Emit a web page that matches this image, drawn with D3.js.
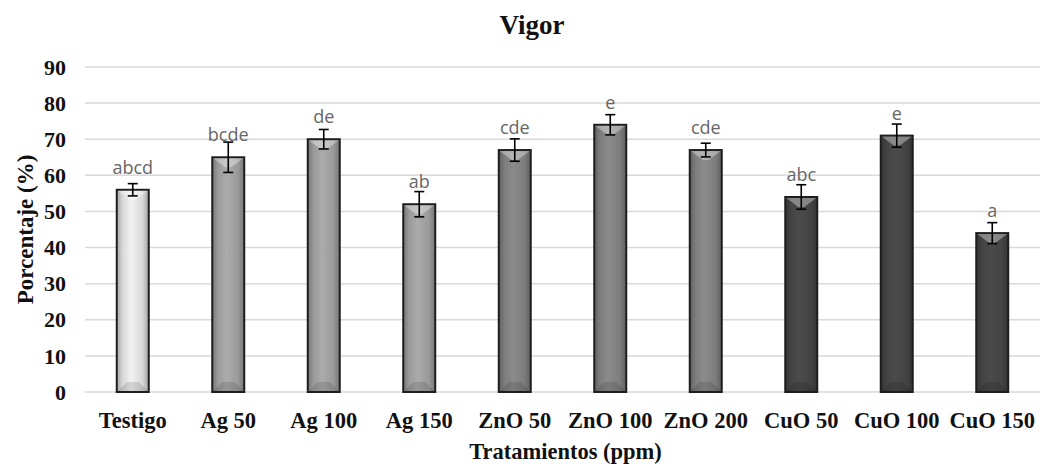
<!DOCTYPE html>
<html>
<head>
<meta charset="utf-8">
<script src="https://cdn.jsdelivr.net/npm/d3@7"></script>
<style>
  body { margin: 0; background: #fff; }
  .serif { font-family: "Liberation Serif", "Times New Roman", serif; font-weight: bold; }
</style>
</head>
<body>
<script>
// chart data
const treatments = ["Testigo", "Ag 50", "Ag 100", "Ag 150", "ZnO 50", "ZnO 100", "ZnO 200", "CuO 50", "CuO 100", "CuO 150"];
const vigor = [56, 65, 70, 52, 67, 74, 67, 54, 71, 44];
const errors = [1.7, 4.2, 2.7, 3.5, 3.1, 2.8, 1.9, 3.4, 3.2, 2.9];
const letters = ["abcd", "bcde", "de", "ab", "cde", "e", "cde", "abc", "e", "a"];
const yTicks = [0, 10, 20, 30, 40, 50, 60, 70, 80, 90];

// one shade per treatment group
const shades = ["#e4e4e4", "#a2a2a2", "#a2a2a2", "#a2a2a2", "#848484", "#848484", "#848484", "#474747", "#474747", "#474747"];

const width = 1047, height = 466;
const margin = {left: 85, right: 7, top: 67, bottom: 74};

const svg = d3.select("body").append("svg")
    .attr("width", width)
    .attr("height", height);

const x = d3.scaleBand()
    .domain(treatments)
    .range([margin.left, width - margin.right])
    .paddingInner(0.665)
    .paddingOuter(0.3325);

const y = d3.scaleLinear()
    .domain([0, 90])
    .range([height - margin.bottom, margin.top]);

// gradients for the bevelled bars
const defs = svg.append("defs");
treatments.forEach((t, i) => {
    const c = d3.color(shades[i]);
    const g = defs.append("linearGradient").attr("id", "g" + i)
        .attr("x1", "0%").attr("x2", "100%").attr("y1", "0%").attr("y2", "0%");
    g.append("stop").attr("offset", "0%").attr("stop-color", c.darker(0.9));
    g.append("stop").attr("offset", "18%").attr("stop-color", c.darker(0.15));
    g.append("stop").attr("offset", "45%").attr("stop-color", c.brighter(0.15));
    g.append("stop").attr("offset", "80%").attr("stop-color", c.darker(0.15));
    g.append("stop").attr("offset", "100%").attr("stop-color", c.darker(0.9));
});

// grid
svg.append("g")
    .selectAll("line")
    .data(yTicks)
    .join("line")
        .attr("x1", margin.left)
        .attr("x2", width - margin.right)
        .attr("y1", d => y(d))
        .attr("y2", d => y(d))
        .attr("stroke", "#d9d9d9")
        .attr("stroke-width", 1.5);

// y tick labels
svg.append("g")
    .selectAll("text")
    .data(yTicks)
    .join("text")
        .attr("class", "serif")
        .attr("x", 66)
        .attr("y", d => y(d))
        .attr("dy", "0.35em")
        .attr("text-anchor", "end")
        .attr("font-size", 22)
        .attr("fill", "#111")
        .text(d => d);

// bars
const bars = svg.append("g")
    .selectAll("g")
    .data(treatments)
    .join("g");

bars.append("rect")
    .attr("x", d => x(d))
    .attr("y", (d, i) => y(vigor[i]))
    .attr("width", x.bandwidth())
    .attr("height", (d, i) => y(0) - y(vigor[i]))
    .attr("fill", (d, i) => "url(#g" + i + ")")
    .attr("stroke", "#1e1e1e")
    .attr("stroke-width", 2);

// top bevel
bars.append("path")
    .attr("d", (d, i) => {
        const x0 = x(d) + 1, x1 = x(d) + x.bandwidth() - 1, top = y(vigor[i]) + 1;
        const cx = (x0 + x1) / 2;
        return `M${x0},${top}L${x1},${top}L${cx + 3},${top + 9}L${cx - 3},${top + 9}Z`;
    })
    .attr("fill", "#fff")
    .attr("fill-opacity", 0.35);

// bottom bevel
bars.append("path")
    .attr("d", (d, i) => {
        const x0 = x(d) + 1, x1 = x(d) + x.bandwidth() - 1, bot = y(0) - 1;
        const cx = (x0 + x1) / 2;
        return `M${x0},${bot}L${x1},${bot}L${cx + 6},${bot - 9}L${cx - 6},${bot - 9}Z`;
    })
    .attr("fill", "#000")
    .attr("fill-opacity", 0.12);

// error bars
const err = svg.append("g")
    .attr("stroke", "#000")
    .attr("stroke-width", 1.6)
    .selectAll("g")
    .data(treatments)
    .join("g");

const cxOf = d => x(d) + x.bandwidth() / 2;
err.append("line")
    .attr("x1", cxOf).attr("x2", cxOf)
    .attr("y1", (d, i) => y(vigor[i] + errors[i]))
    .attr("y2", (d, i) => y(vigor[i] - errors[i]));
err.append("line")
    .attr("x1", d => cxOf(d) - 5).attr("x2", d => cxOf(d) + 5)
    .attr("y1", (d, i) => y(vigor[i] + errors[i]))
    .attr("y2", (d, i) => y(vigor[i] + errors[i]));
err.append("line")
    .attr("x1", d => cxOf(d) - 5).attr("x2", d => cxOf(d) + 5)
    .attr("y1", (d, i) => y(vigor[i] - errors[i]))
    .attr("y2", (d, i) => y(vigor[i] - errors[i]));

// significance letters
svg.append("g")
    .selectAll("text")
    .data(treatments)
    .join("text")
        .attr("x", cxOf)
        .attr("y", (d, i) => y(vigor[i]) - 16)
        .attr("text-anchor", "middle")
        .attr("font-family", "'Open Sans', sans-serif")
        .attr("font-size", 18)
        .attr("fill", "#666")
        .text((d, i) => letters[i]);

// x tick labels
svg.append("g")
    .selectAll("text")
    .data(treatments)
    .join("text")
        .attr("class", "serif")
        .attr("x", cxOf)
        .attr("y", 428)
        .attr("text-anchor", "middle")
        .attr("font-size", 22.5)
        .attr("fill", "#111")
        .text(d => d);

// titles
svg.append("text")
    .attr("class", "serif")
    .attr("x", 532)
    .attr("y", 34)
    .attr("text-anchor", "middle")
    .attr("font-size", 27)
    .attr("fill", "#111")
    .text("Vigor");

svg.append("text")
    .attr("class", "serif")
    .attr("x", (margin.left + width - margin.right) / 2 + 3)
    .attr("y", 459)
    .attr("text-anchor", "middle")
    .attr("font-size", 22.5)
    .attr("fill", "#111")
    .text("Tratamientos (ppm)");

svg.append("text")
    .attr("class", "serif")
    .attr("transform", `translate(33,${(y(0) + y(90)) / 2}) rotate(-90)`)
    .attr("text-anchor", "middle")
    .attr("font-size", 23)
    .attr("fill", "#111")
    .text("Porcentaje (%)");
</script>
</body>
</html>
